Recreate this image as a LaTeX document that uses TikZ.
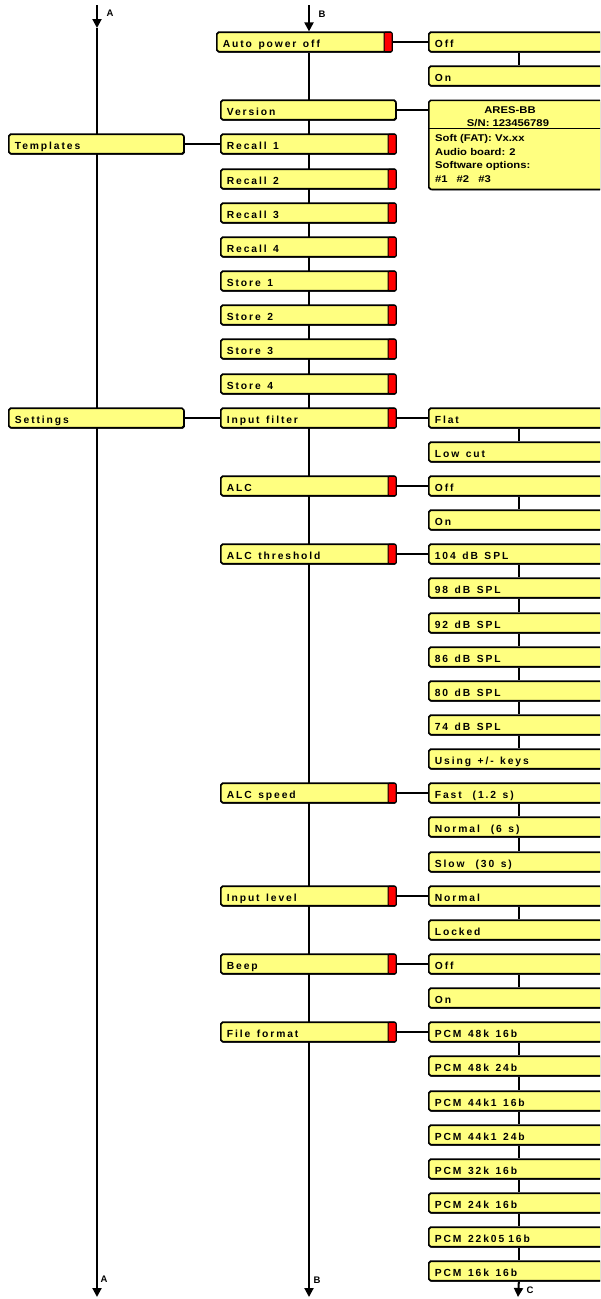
\documentclass[tikz,border=0pt]{standalone}
\usepackage{fontspec}
\setmainfont{Liberation Sans}
\newfontfamily\lblfont[LetterSpace=18.5]{Liberation Sans}
\newfontfamily\infofont[FakeStretch=1.15]{Liberation Sans}
\usetikzlibrary{arrows.meta,backgrounds,calc,shadows}
\newcommand\ws{\hspace{6.5pt}}
\newcommand\wws{\hspace{11pt}}
\definecolor{boxyellow}{RGB}{255,255,128}
\definecolor{markred}{RGB}{255,0,0}
\tikzset{
  menubox/.style={draw=black, line width=1.7pt, rounded corners=1.8pt, fill=boxyellow,
    minimum width=175pt, minimum height=19.5pt, text width=163pt, inner xsep=6pt, inner ysep=0pt,
    text height=10pt, text depth=0pt, align=left, anchor=west,
    font=\lblfont\bfseries\fontsize{10.3}{12}\selectfont,
    drop shadow={shadow xshift=0.9pt, shadow yshift=-0.9pt, fill=black, opacity=1}},
  rightbox/.style={menubox, minimum width=180pt, text width=168pt},
  infobox/.style={draw=black, line width=1.7pt, rounded corners=1.8pt, fill=boxyellow,
    minimum width=180pt, minimum height=89pt, inner sep=0pt, anchor=north west,
    drop shadow={shadow xshift=0.9pt, shadow yshift=-0.9pt, fill=black, opacity=1}},
  marker/.style={draw=black, line width=1.2pt, fill=markred, minimum width=8pt,
    minimum height=19.5pt, inner sep=0pt, anchor=east, rounded corners=1pt},
  conn/.style={line width=2pt, draw=black},
  arr/.style={conn, -{Triangle[width=9pt,length=9pt]}},
  letter/.style={font=\bfseries\fontsize{9.5}{10}\selectfont, inner sep=0pt},
  infotext/.style={font=\infofont\bfseries\fontsize{9.8}{11}\selectfont, inner sep=0pt},
}
\begin{document}
\begin{tikzpicture}[x=1pt,y=-1pt]
\clip (0,0) rectangle (600,1299);
% free ends of the long lines
\coordinate (Atop) at (97,5);
\coordinate (Amid) at (97,28);
\coordinate (Abot) at (97,1297);
\coordinate (Btop) at (309,5);
\coordinate (Bbot) at (309,1297);
\coordinate (Cend) at (518,1297);
% labels
\node[letter] (la1) at (110,13) {A};
\node[letter] (lb1) at (322,14) {B};
\node[letter] (la2) at (104,1279) {A};
\node[letter] (lb2) at (317,1280) {B};
\node[letter] (lc) at (530,1290) {C};
% left column
\node[menubox] (tpl) at (8,144) {Templates};
\node[menubox] (set) at (8,418) {Settings};
% middle column
\node[menubox] (apo) at (216,42) {Auto\ws power\ws off};
\node[menubox] (ver) at (220,110) {Version};
\node[menubox] (rc1) at (220,144) {Recall\ws 1};
\node[menubox] (rc2) at (220,179) {Recall\ws 2};
\node[menubox] (rc3) at (220,213) {Recall\ws 3};
\node[menubox] (rc4) at (220,247) {Recall\ws 4};
\node[menubox] (st1) at (220,281) {Store\ws 1};
\node[menubox] (st2) at (220,315) {Store\ws 2};
\node[menubox] (st3) at (220,349) {Store\ws 3};
\node[menubox] (st4) at (220,384) {Store\ws 4};
\node[menubox] (inf) at (220,418) {Input\ws filter};
\node[menubox] (alc) at (220,486) {ALC};
\node[menubox] (thr) at (220,554) {ALC\ws threshold};
\node[menubox] (spd) at (220,793) {ALC\ws speed};
\node[menubox] (lvl) at (220,896) {Input\ws level};
\node[menubox] (bep) at (220,964) {Beep};
\node[menubox] (fmt) at (220,1032) {File\ws format};
\foreach \n in {apo,rc1,rc2,rc3,rc4,st1,st2,st3,st4,inf,alc,thr,spd,lvl,bep,fmt}
  \node[marker] (m\n) at (\n.east) {};
% right column
\node[rightbox] (offa) at (428,42) {Off};
\node[rightbox] (ona) at (428,76) {On};
\node[infobox] (info) at (428,99.5) {};
\node[infotext] (i1) at (510,109.8) {ARES-BB};
\node[infotext] (i2) at (508,123.2) {S/N: 123456789};
\node[infotext, anchor=base west] (i3) at (435,141.7) {Soft (FAT): Vx.xx};
\node[infotext, anchor=base west] (i4) at (435,155) {Audio board: 2};
\node[infotext, anchor=base west] (i5) at (435,168.3) {Software options:};
\node[infotext, anchor=base west] (i6) at (435,182.3) {\#1\hspace{9pt}\#2\hspace{9pt}\#3};
\draw[line width=1.3pt] ($(info.north west)+(0,29.2)$) -- ($(info.north east)+(0,29.2)$);
\node[rightbox] (flat) at (428,418) {Flat};
\node[rightbox] (lcut) at (428,452) {Low\ws cut};
\node[rightbox] (offb) at (428,486) {Off};
\node[rightbox] (onb) at (428,520) {On};
\node[rightbox] (t1) at (428,554) {104\ws dB\ws SPL};
\node[rightbox] (t2) at (428,588) {98\ws dB\ws SPL};
\node[rightbox] (t3) at (428,623) {92\ws dB\ws SPL};
\node[rightbox] (t4) at (428,657) {86\ws dB\ws SPL};
\node[rightbox] (t5) at (428,691) {80\ws dB\ws SPL};
\node[rightbox] (t6) at (428,725) {74\ws dB\ws SPL};
\node[rightbox] (t7) at (428,759) {Using\ws +/-\ws keys};
\node[rightbox] (fast) at (428,793) {Fast\wws(1.2\ws s)};
\node[rightbox] (norm) at (428,827) {Normal\wws(6\ws s)};
\node[rightbox] (slow) at (428,862) {Slow\wws(30\ws s)};
\node[rightbox] (nrml) at (428,896) {Normal};
\node[rightbox] (lock) at (428,930) {Locked};
\node[rightbox] (offc) at (428,964) {Off};
\node[rightbox] (onc) at (428,998) {On};
\node[rightbox] (p1) at (428,1032) {PCM\ws 48k\ws 16b};
\node[rightbox] (p2) at (428,1066) {PCM\ws 48k\ws 24b};
\node[rightbox] (p3) at (428,1101) {PCM\ws 44k1\ws 16b};
\node[rightbox] (p4) at (428,1135) {PCM\ws 44k1\ws 24b};
\node[rightbox] (p5) at (428,1169) {PCM\ws 32k\ws 16b};
\node[rightbox] (p6) at (428,1203) {PCM\ws 24k\ws 16b};
\node[rightbox] (p7) at (428,1237) {PCM\ws 22k05\hspace{4pt}16b};
\node[rightbox] (p8) at (428,1271) {PCM\ws 16k\ws 16b};
% connectors
\begin{scope}[on background layer]
  \draw[arr] (Atop) -- (Amid);
  \draw[arr] (Amid) -- (Abot);
  \draw[arr] (Btop) -- (Btop |- apo.north);
  \draw[arr] (Btop |- apo.south) -- (Bbot);
  \draw[conn] (tpl.east) -- (rc1.west);
  \draw[conn] (set.east) -- (inf.west);
  \draw[conn] (apo.east) -- (offa.west);
  \draw[conn] (ver.east) -- (info.west |- ver.east);
  \draw[conn] (inf.east) -- (flat.west);
  \draw[conn] (alc.east) -- (offb.west);
  \draw[conn] (thr.east) -- (t1.west);
  \draw[conn] (spd.east) -- (fast.west);
  \draw[conn] (lvl.east) -- (nrml.west);
  \draw[conn] (bep.east) -- (offc.west);
  \draw[conn] (fmt.east) -- (p1.west);
  \foreach \a/\b in {offa/ona,flat/lcut,offb/onb,t1/t2,t2/t3,t3/t4,t4/t5,t5/t6,t6/t7,
      fast/norm,norm/slow,nrml/lock,offc/onc,p1/p2,p2/p3,p3/p4,p4/p5,p5/p6,p6/p7,p7/p8}
    \draw[conn] (\a.south) -- (\b.north);
  \draw[arr] (p8.south) -- (Cend);
\end{scope}
\end{tikzpicture}
\end{document}
